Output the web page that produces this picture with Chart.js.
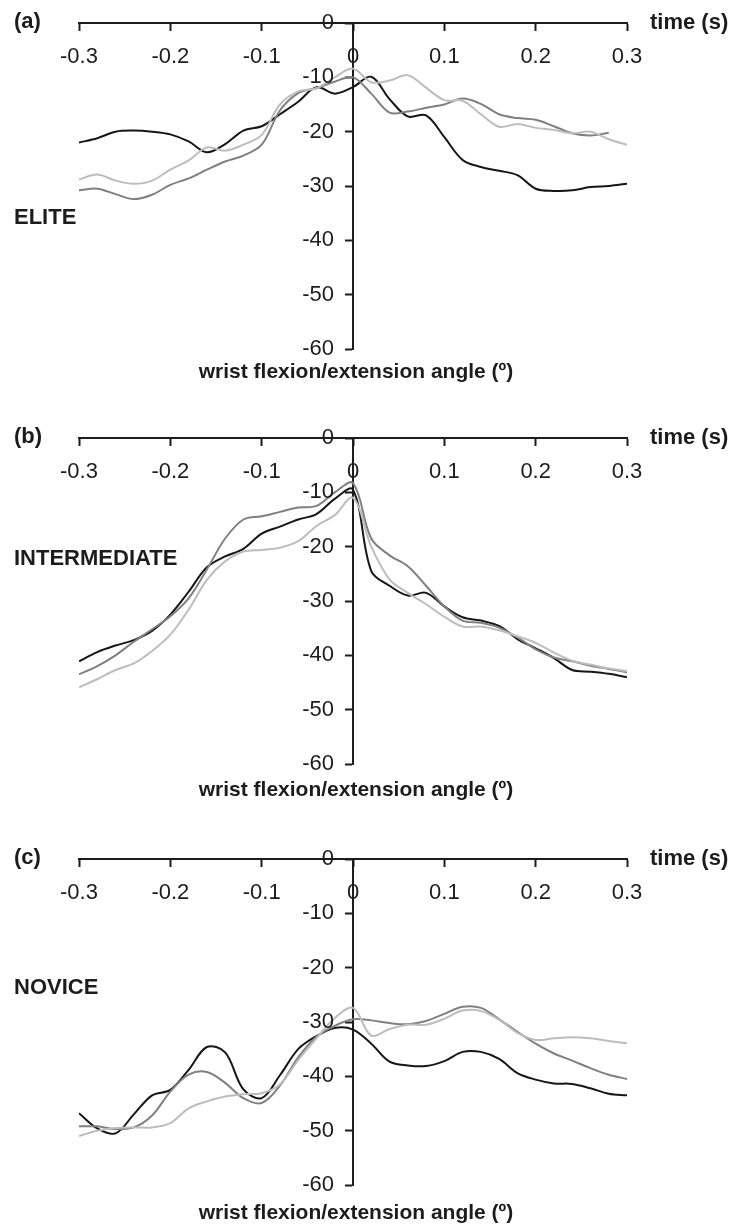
<!DOCTYPE html>
<html>
<head>
<meta charset="utf-8">
<script src="https://cdn.jsdelivr.net/npm/chart.js@4.4.1/dist/chart.umd.min.js"></script>
<style>
  html, body { margin: 0; padding: 0; background: #fff; }
  body { width: 730px; height: 1225px; position: relative; overflow: hidden; }
  canvas { position: absolute; left: 0; }
</style>
</head>
<body>
<canvas id="chartA" width="730" height="389" style="top:0px"></canvas>
<canvas id="chartB" width="730" height="389" style="top:415px"></canvas>
<canvas id="chartC" width="730" height="389" style="top:836px"></canvas>
<script>
// time (s), sampled every 0.02 s
const times = [-0.30, -0.28, -0.26, -0.24, -0.22, -0.20, -0.18, -0.16, -0.14, -0.12, -0.10,
               -0.08, -0.06, -0.04, -0.02, 0.00, 0.02, 0.04, 0.06, 0.08, 0.10,
               0.12, 0.14, 0.16, 0.18, 0.20, 0.22, 0.24, 0.26, 0.28, 0.30];

const xTicks = [-0.3, -0.2, -0.1, 0, 0.1, 0.2, 0.3];
const yTicks = [0, -10, -20, -30, -40, -50, -60];

// (a) ELITE
const eliteBlack = [-22.0, -21.2, -20.0, -19.8, -20.0, -20.5, -21.8, -23.8, -22.3, -19.8, -19.0,
                    -16.8, -14.5, -11.8, -13.0, -11.8, -9.9, -14.0, -17.2, -17.0, -21.0,
                    -25.2, -26.5, -27.2, -28.0, -30.5, -30.9, -30.8, -30.2, -30.0, -29.6];
const eliteDark  = [-30.8, -30.5, -31.5, -32.4, -31.6, -29.8, -28.6, -27.0, -25.5, -24.4, -22.4,
                    -16.1, -12.9, -12.0, -10.8, -10.0, -13.0, -16.5, -16.3, -15.6, -15.0,
                    -13.9, -14.9, -16.8, -17.5, -17.8, -19.0, -20.3, -20.7, -20.2, null];
const eliteLight = [-28.8, -27.9, -29.0, -29.6, -29.0, -27.0, -25.3, -22.9, -23.5, -22.4, -20.6,
                    -15.0, -12.6, -12.0, -10.0, -8.4, -10.9, -10.6, -9.6, -11.9, -14.2,
                    -14.3, -16.8, -19.1, -18.6, -19.3, -19.7, -20.3, -20.0, -21.4, -22.4];

// (b) INTERMEDIATE
const interBlack = [-41.1, -39.4, -38.2, -37.2, -35.5, -32.5, -28.3, -23.8, -21.8, -20.4, -17.6,
                    -16.3, -15.0, -14.0, -11.2, -9.5, -24.5, -27.2, -29.0, -28.5, -31.0,
                    -33.0, -33.6, -34.6, -37.0, -38.7, -40.5, -42.7, -43.0, -43.4, -44.0];
const interDark  = [-43.5, -42.0, -40.0, -37.5, -35.2, -32.8, -29.5, -24.2, -18.5, -15.0, -14.4,
                    -13.6, -12.8, -12.5, -10.0, -8.3, -18.5, -21.6, -23.6, -27.2, -31.0,
                    -33.6, -34.0, -34.9, -36.7, -38.9, -40.4, -41.1, -41.9, -42.5, -43.1];
const interLight = [-45.9, -44.4, -42.7, -41.5, -39.2, -36.2, -31.6, -26.1, -22.7, -20.9, -20.6,
                    -20.2, -19.0, -16.2, -14.2, -11.0, -20.0, -26.0, -28.5, -30.6, -32.9,
                    -34.7, -34.7, -35.4, -36.5, -37.7, -39.5, -41.0, -41.7, -42.4, -42.9];

// (c) NOVICE
const noviceBlack = [-46.8, -49.6, -50.5, -47.0, -43.5, -42.5, -38.8, -34.6, -35.6, -42.4, -44.0,
                     -39.8, -35.0, -32.6, -31.1, -31.4, -34.0, -37.3, -38.0, -38.1, -37.2,
                     -35.5, -35.5, -36.8, -39.4, -40.6, -41.3, -41.4, -42.2, -43.2, -43.5];
const noviceDark  = [-49.2, -49.2, -49.7, -49.4, -47.2, -42.8, -39.7, -39.2, -41.2, -44.0, -44.9,
                     -41.7, -36.5, -32.7, -30.7, -29.5, -29.7, -30.2, -30.4, -29.8, -28.5,
                     -27.2, -27.4, -29.5, -31.8, -34.0, -35.8, -37.1, -38.5, -39.7, -40.5];
const noviceLight = [-51.0, -50.0, -49.5, -49.4, -49.4, -48.6, -45.9, -44.6, -43.7, -43.3, -43.1,
                     -41.5, -37.0, -33.0, -29.3, -27.4, -32.5, -31.3, -30.5, -30.5, -29.4,
                     -27.9, -28.0, -29.6, -32.0, -33.3, -33.0, -32.8, -33.0, -33.5, -33.9];

const FONT = '"Liberation Sans", Arial, Helvetica, sans-serif';
const INK = '#1c1c1c';

// Panel captions, y tick labels (left of the centred axis) and axis titles
const panelText = {
    id: 'panelText',
    afterDraw(chart, args, opts) {
        const ctx = chart.ctx;
        const area = chart.chartArea;
        const yScale = chart.scales.y;
        const x0 = chart.scales.x.getPixelForValue(0);
        const y0 = yScale.getPixelForValue(0);
        ctx.save();
        ctx.fillStyle = INK;
        ctx.textBaseline = 'middle';

        ctx.textAlign = 'right';
        ctx.font = '22px ' + FONT;
        yTicks.forEach(v => ctx.fillText(String(v), x0 - 19, yScale.getPixelForValue(v)));

        ctx.textAlign = 'left';
        ctx.font = 'bold 22px ' + FONT;
        ctx.fillText(opts.tag, 14, y0 - 1);
        ctx.fillText(opts.group, 14, opts.groupY);
        ctx.fillText('time (s)', area.right + 23, y0);
        ctx.font = 'bold 21px ' + FONT;
        ctx.textAlign = 'center';
        ctx.fillText('wrist flexion/extension angle (\u00ba)', 356, opts.titleY);
        ctx.restore();
    }
};

function series(label, values, color) {
    return {
        label: label,
        data: times.map((t, i) => ({ x: t, y: values[i] })),
        borderColor: color,
        borderWidth: 2,
        pointRadius: 0,
        tension: 0.35,
        fill: false
    };
}

function makePanel(id, lines, text) {
    const ctx = document.getElementById(id).getContext('2d');
    return new Chart(ctx, {
        type: 'line',
        data: {
            datasets: [
                series('3', lines[2], '#bdbdbd'),
                series('2', lines[1], '#808080'),
                series('1', lines[0], '#161616')
            ]
        },
        options: {
            responsive: false,
            animation: false,
            events: [],
            layout: { padding: { left: 79, right: 103, top: 23, bottom: 40 } },
            plugins: {
                legend: { display: false },
                tooltip: { enabled: false },
                panelText: text
            },
            scales: {
                x: {
                    type: 'linear',
                    min: -0.3,
                    max: 0.3,
                    position: { y: 0 },
                    afterBuildTicks: scale => { scale.ticks = xTicks.map(v => ({ value: v })); },
                    grid: { drawOnChartArea: false, tickLength: 7, tickColor: INK, tickWidth: 2 },
                    border: { color: INK, width: 2 },
                    ticks: {
                        color: INK,
                        padding: 14,
                        maxRotation: 0,
                        font: { family: FONT, size: 22 },
                        callback: v => String(Math.round(v * 10) / 10)
                    }
                },
                y: {
                    type: 'linear',
                    min: -60,
                    max: 0,
                    position: { x: 0 },
                    afterBuildTicks: scale => { scale.ticks = yTicks.map(v => ({ value: v })); },
                    grid: { drawOnChartArea: false, tickLength: 7, tickColor: INK, tickWidth: 2 },
                    border: { color: INK, width: 2 },
                    ticks: { display: false }
                }
            }
        },
        plugins: [panelText]
    });
}

makePanel('chartA', [eliteBlack, eliteDark, eliteLight], { tag: '(a)', group: 'ELITE', groupY: 218, titleY: 372 });
makePanel('chartB', [interBlack, interDark, interLight], { tag: '(b)', group: 'INTERMEDIATE', groupY: 144, titleY: 375 });
makePanel('chartC', [noviceBlack, noviceDark, noviceLight], { tag: '(c)', group: 'NOVICE', groupY: 152, titleY: 377 });
</script>
</body>
</html>
